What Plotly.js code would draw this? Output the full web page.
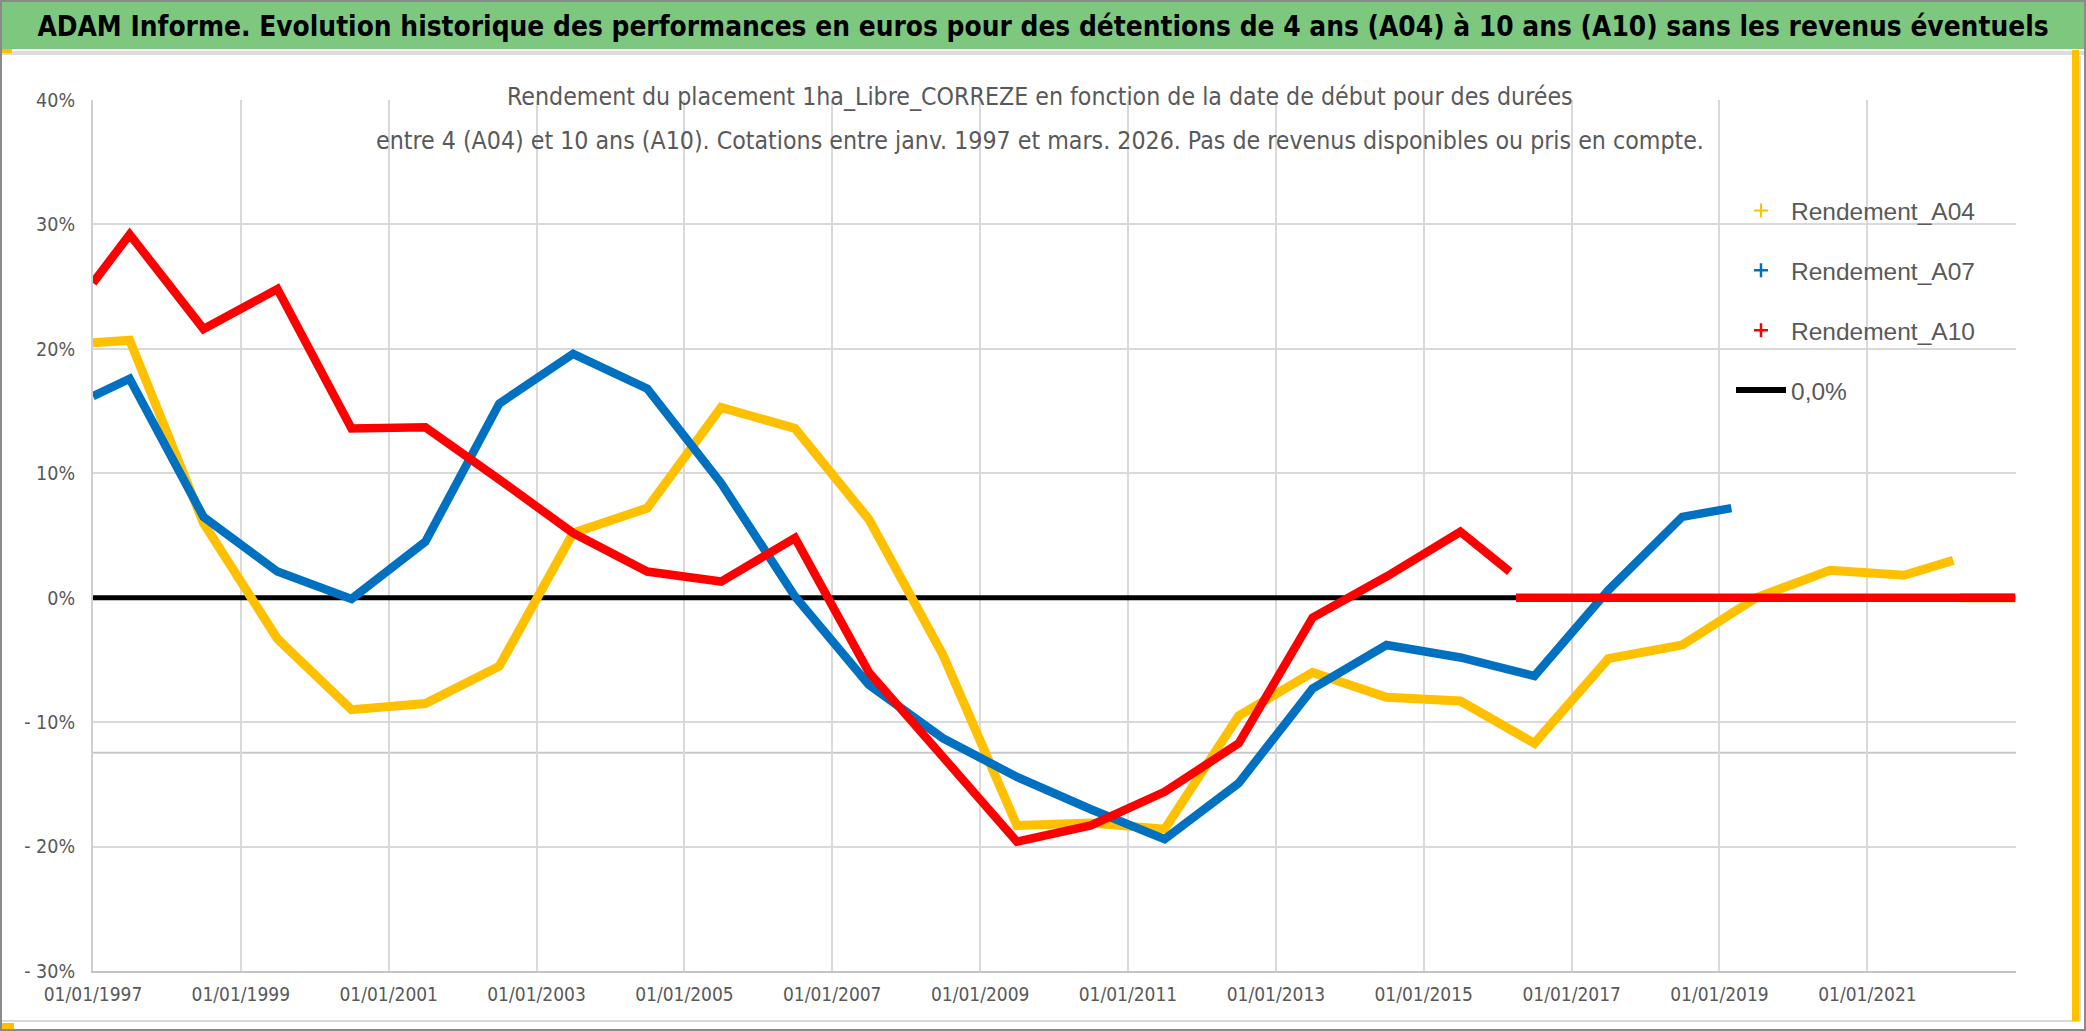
<!DOCTYPE html>
<html>
<head>
<meta charset="utf-8">
<script src="https://cdn.plot.ly/plotly-3.0.1.min.js"></script>
<style>
  html, body { margin: 0; padding: 0; background: #ffffff; }
  #chart { width: 2086px; height: 1031px; }
</style>
</head>
<body>
<div id="chart"></div>
<script>
// ---------------- DATA ----------------
var datesA04 = ['1997-01-01','1997-07-01','1998-07-01','1999-07-01','2000-07-01','2001-07-01','2002-07-01',
  '2003-07-01','2004-07-01','2005-07-01','2006-07-01','2007-07-01','2008-07-01','2009-07-01','2010-07-01',
  '2011-07-01','2012-07-01','2013-07-01','2014-07-01','2015-07-01','2016-07-01','2017-07-01','2018-07-01',
  '2019-07-01','2020-07-01','2021-07-01','2022-03-01'];
var rendementA04 = [20.5,20.7,6.0,-3.3,-9.0,-8.5,-5.5,5.2,7.2,15.3,13.6,6.3,-4.6,-18.3,-18.1,-18.6,-9.5,-6.0,
  -8.0,-8.3,-11.7,-4.9,-3.8,0.0,2.2,1.8,3.0];

var datesA07 = ['1997-01-01','1997-07-01','1998-07-01','1999-07-01','2000-07-01','2001-07-01','2002-07-01',
  '2003-07-01','2004-07-01','2005-07-01','2006-07-01','2007-07-01','2008-07-01','2009-07-01','2010-07-01',
  '2011-07-01','2012-07-01','2013-07-01','2014-07-01','2015-07-01','2016-07-01','2017-07-01','2018-07-01',
  '2019-03-01'];
var rendementA07 = [16.2,17.6,6.5,2.1,-0.1,4.5,15.6,19.6,16.8,9.2,0.1,-7.0,-11.3,-14.4,-17.0,-19.4,-14.9,-7.3,
  -3.8,-4.8,-6.3,0.6,6.5,7.2];

var datesA10 = ['1997-01-01','1997-07-01','1998-07-01','1999-07-01','2000-07-01','2001-07-01','2002-07-01',
  '2003-07-01','2004-07-01','2005-07-01','2006-07-01','2007-07-01','2008-07-01','2009-07-01','2010-07-01',
  '2011-07-01','2012-07-01','2013-07-01','2014-07-01','2015-07-01','2016-03-01'];
var rendementA10 = [25.3,29.2,21.6,24.8,13.6,13.7,9.5,5.2,2.1,1.3,4.8,-6.0,-12.8,-19.6,-18.3,-15.6,-11.7,-1.6,
  1.7,5.3,2.1];

// periods without available data (plotted as 0 in the source)
var tailA04Dates = ['2022-04-01','2023-01-01'];
var tailA04Values = [0, 0];
var tailA10Dates = ['2016-04-01','2023-01-01'];
var tailA10Values = [0, 0];

var zeroDates = ['1997-01-01','2023-01-01'];
var zeroValues = [0, 0];

var seriesNames = ['Rendement_A04','Rendement_A07','Rendement_A10','0,0%'];

var yTickVals = [0.4,0.3,0.2,0.1,0,-0.1,-0.2,-0.3];
var yTickText = ['40%','30%','20%','10%','0%','- 10%','- 20%','- 30%'];
var xTickVals = ['1997-01-01','1999-01-01','2001-01-01','2003-01-01','2005-01-01','2007-01-01','2009-01-01',
  '2011-01-01','2013-01-01','2015-01-01','2017-01-01','2019-01-01','2021-01-01'];
var xTickText = ['01/01/1997','01/01/1999','01/01/2001','01/01/2003','01/01/2005','01/01/2007','01/01/2009',
  '01/01/2011','01/01/2013','01/01/2015','01/01/2017','01/01/2019','01/01/2021'];

var titleText = 'ADAM Informe. Evolution historique des performances en euros pour des détentions de 4 ans (A04) à 10 ans (A10) sans les revenus éventuels';
var subtitle1 = 'Rendement du placement 1ha_Libre_CORREZE en fonction de la date de début pour des durées';
var subtitle2 = 'entre 4 (A04) et 10 ans (A10). Cotations entre janv. 1997 et mars. 2026. Pas de revenus disponibles ou pris en compte.';

// ---------------- STYLE / LAYOUT ----------------
var W = 2086, H = 1031;
var L = 93, R = 2016, T = 100, B = 971;
function px(x) { return (x - L) / (R - L); }
function py(y) { return (B - y) / (B - T); }
function pct(a) { return a.map(function (v) { return v / 100; }); }
function withTail(d, v, td, tv) { return { x: d.concat([null]).concat(td), y: pct(v).concat([null]).concat(pct(tv)) }; }

var NARROW = '"Liberation Sans Narrow", "DejaVu Sans Condensed", "Arial Narrow", sans-serif';
var cA04 = '#FFC000', cA07 = '#0070C0', cA10 = '#FF0000';

var s04 = withTail(datesA04, rendementA04, tailA04Dates, tailA04Values);
var s10 = withTail(datesA10, rendementA10, tailA10Dates, tailA10Values);

var traces = [
  { x: zeroDates, y: pct(zeroValues), mode: 'lines', line: { color: '#000000', width: 5 }, showlegend: false, hoverinfo: 'skip' },
  { x: s04.x, y: s04.y, mode: 'lines', line: { color: cA04, width: 9 }, connectgaps: false, showlegend: false, name: seriesNames[0] },
  { x: datesA07, y: pct(rendementA07), mode: 'lines', line: { color: cA07, width: 8.5 }, showlegend: false, name: seriesNames[1] },
  { x: s10.x, y: s10.y, mode: 'lines', line: { color: cA10, width: 8.5 }, connectgaps: false, showlegend: false, name: seriesNames[2] },
  // legend entries
  { x: [null], y: [null], mode: 'markers', name: seriesNames[0], legendgroup: 'a', marker: { symbol: 'cross-thin', size: 10, line: { color: cA04, width: 2 } } },
  { x: [null], y: [null], mode: 'markers', name: seriesNames[1], legendgroup: 'b', marker: { symbol: 'cross-thin', size: 10, line: { color: cA07, width: 2.5 } } },
  { x: [null], y: [null], mode: 'markers', name: seriesNames[2], legendgroup: 'c', marker: { symbol: 'cross-thin', size: 10, line: { color: cA10, width: 2.5 } } },
  { x: [null], y: [null], mode: 'lines', name: seriesNames[3], legendgroup: 'd', line: { color: '#000000', width: 6 } }
];

var shapes = [
  // outer frame
  { type: 'rect', xref: 'paper', yref: 'paper', x0: px(1), x1: px(2085), y0: py(1030), y1: py(1), line: { color: '#8a8a8a', width: 2 }, fillcolor: 'rgba(0,0,0,0)', layer: 'below' },
  // green banner
  { type: 'rect', xref: 'paper', yref: 'paper', x0: px(2), x1: px(2084), y0: py(49), y1: py(2), line: { width: 0 }, fillcolor: '#7DC87E', layer: 'below' },
  { type: 'rect', xref: 'paper', yref: 'paper', x0: px(2), x1: px(2084), y0: py(55), y1: py(51), line: { width: 0 }, fillcolor: '#dcdcdc', layer: 'below' },
  // chart-area border
  { type: 'line', xref: 'paper', yref: 'paper', x0: px(2), x1: px(2080), y0: py(1021), y1: py(1021), line: { color: '#d9d9d9', width: 2 }, layer: 'below' },
  { type: 'line', xref: 'paper', yref: 'paper', x0: px(2080), x1: px(2080), y0: py(1021), y1: py(56), line: { color: '#d9d9d9', width: 2 }, layer: 'below' },
  // selection marks
  { type: 'rect', xref: 'paper', yref: 'paper', x0: px(2072), x1: px(2079), y0: py(1021), y1: py(50), line: { width: 0 }, fillcolor: '#FFC000', layer: 'below' },
  { type: 'rect', xref: 'paper', yref: 'paper', x0: px(2), x1: px(12), y0: py(53), y1: py(49), line: { width: 0 }, fillcolor: '#FFC000', layer: 'below' },
  { type: 'rect', xref: 'paper', yref: 'paper', x0: px(2), x1: px(14), y0: py(1029), y1: py(1023), line: { width: 0 }, fillcolor: '#FFC000', layer: 'below' },
  // subtitle background (hides gridlines)
  { type: 'rect', xref: 'paper', yref: 'paper', x0: px(375), x1: px(1705), y0: py(166), y1: py(90), line: { width: 0 }, fillcolor: '#ffffff', layer: 'between' },
  // legend background (hides gridlines)
  { type: 'rect', xref: 'paper', yref: 'paper', x0: px(1702), x1: px(2016), y0: py(422), y1: py(180), line: { width: 0 }, fillcolor: '#ffffff', layer: 'between' },
  // secondary horizontal line
  { type: 'line', xref: 'paper', yref: 'y', x0: 0, x1: 1, y0: -0.1246, y1: -0.1246, line: { color: '#c8c8c8', width: 2 }, layer: 'between' }
];

var layout = {
  width: W, height: H,
  paper_bgcolor: '#ffffff', plot_bgcolor: '#ffffff',
  margin: { l: L, r: W - R, t: T, b: H - B, pad: 0 },
  title: {
    text: '<b>' + titleText + '</b>',
    font: { family: NARROW, size: 27.8, color: '#000000' },
    x: 0.5, xref: 'container', xanchor: 'center',
    y: 1 - 26 / H, yref: 'container', yanchor: 'middle'
  },
  xaxis: {
    type: 'date',
    range: ['1997-01-01', '2023-01-05'],
    tickmode: 'array', tickvals: xTickVals, ticktext: xTickText,
    tickfont: { family: NARROW, size: 19, color: '#595959' },
    showgrid: true, gridcolor: '#d9d9d9', gridwidth: 2,
    showline: true, linecolor: '#c4c4c4', linewidth: 2,
    ticks: '', ticklabelstandoff: 5, zeroline: false, fixedrange: true
  },
  yaxis: {
    range: [-0.3, 0.4],
    tickmode: 'array', tickvals: yTickVals, ticktext: yTickText,
    tickfont: { family: NARROW, size: 19.5, color: '#595959' },
    showgrid: true, gridcolor: '#d9d9d9', gridwidth: 2,
    showline: true, linecolor: '#d0d0d0', linewidth: 2,
    ticks: '', ticklabelstandoff: 12, zeroline: false, fixedrange: true
  },
  legend: {
    x: px(1731), xanchor: 'left', xref: 'paper',
    y: py(188), yanchor: 'top', yref: 'paper',
    bgcolor: 'rgba(0,0,0,0)', borderwidth: 0,
    font: { family: '"Liberation Sans", Arial, sans-serif', size: 24.5, color: '#595959' },
    traceorder: 'grouped', tracegroupgap: 25, itemwidth: 50
  },
  showlegend: true,
  shapes: shapes,
  annotations: [
    { xref: 'paper', yref: 'paper', x: px(1040), y: py(97), xanchor: 'center', yanchor: 'middle', showarrow: false,
      text: subtitle1, font: { family: NARROW, size: 24.7, color: '#595959' } },
    { xref: 'paper', yref: 'paper', x: px(1040), y: py(140), xanchor: 'center', yanchor: 'middle', showarrow: false,
      text: subtitle2, font: { family: NARROW, size: 24.7, color: '#595959' } }
  ],
  hovermode: false
};

Plotly.newPlot('chart', traces, layout, { staticPlot: true, displayModeBar: false });
</script>
</body>
</html>
